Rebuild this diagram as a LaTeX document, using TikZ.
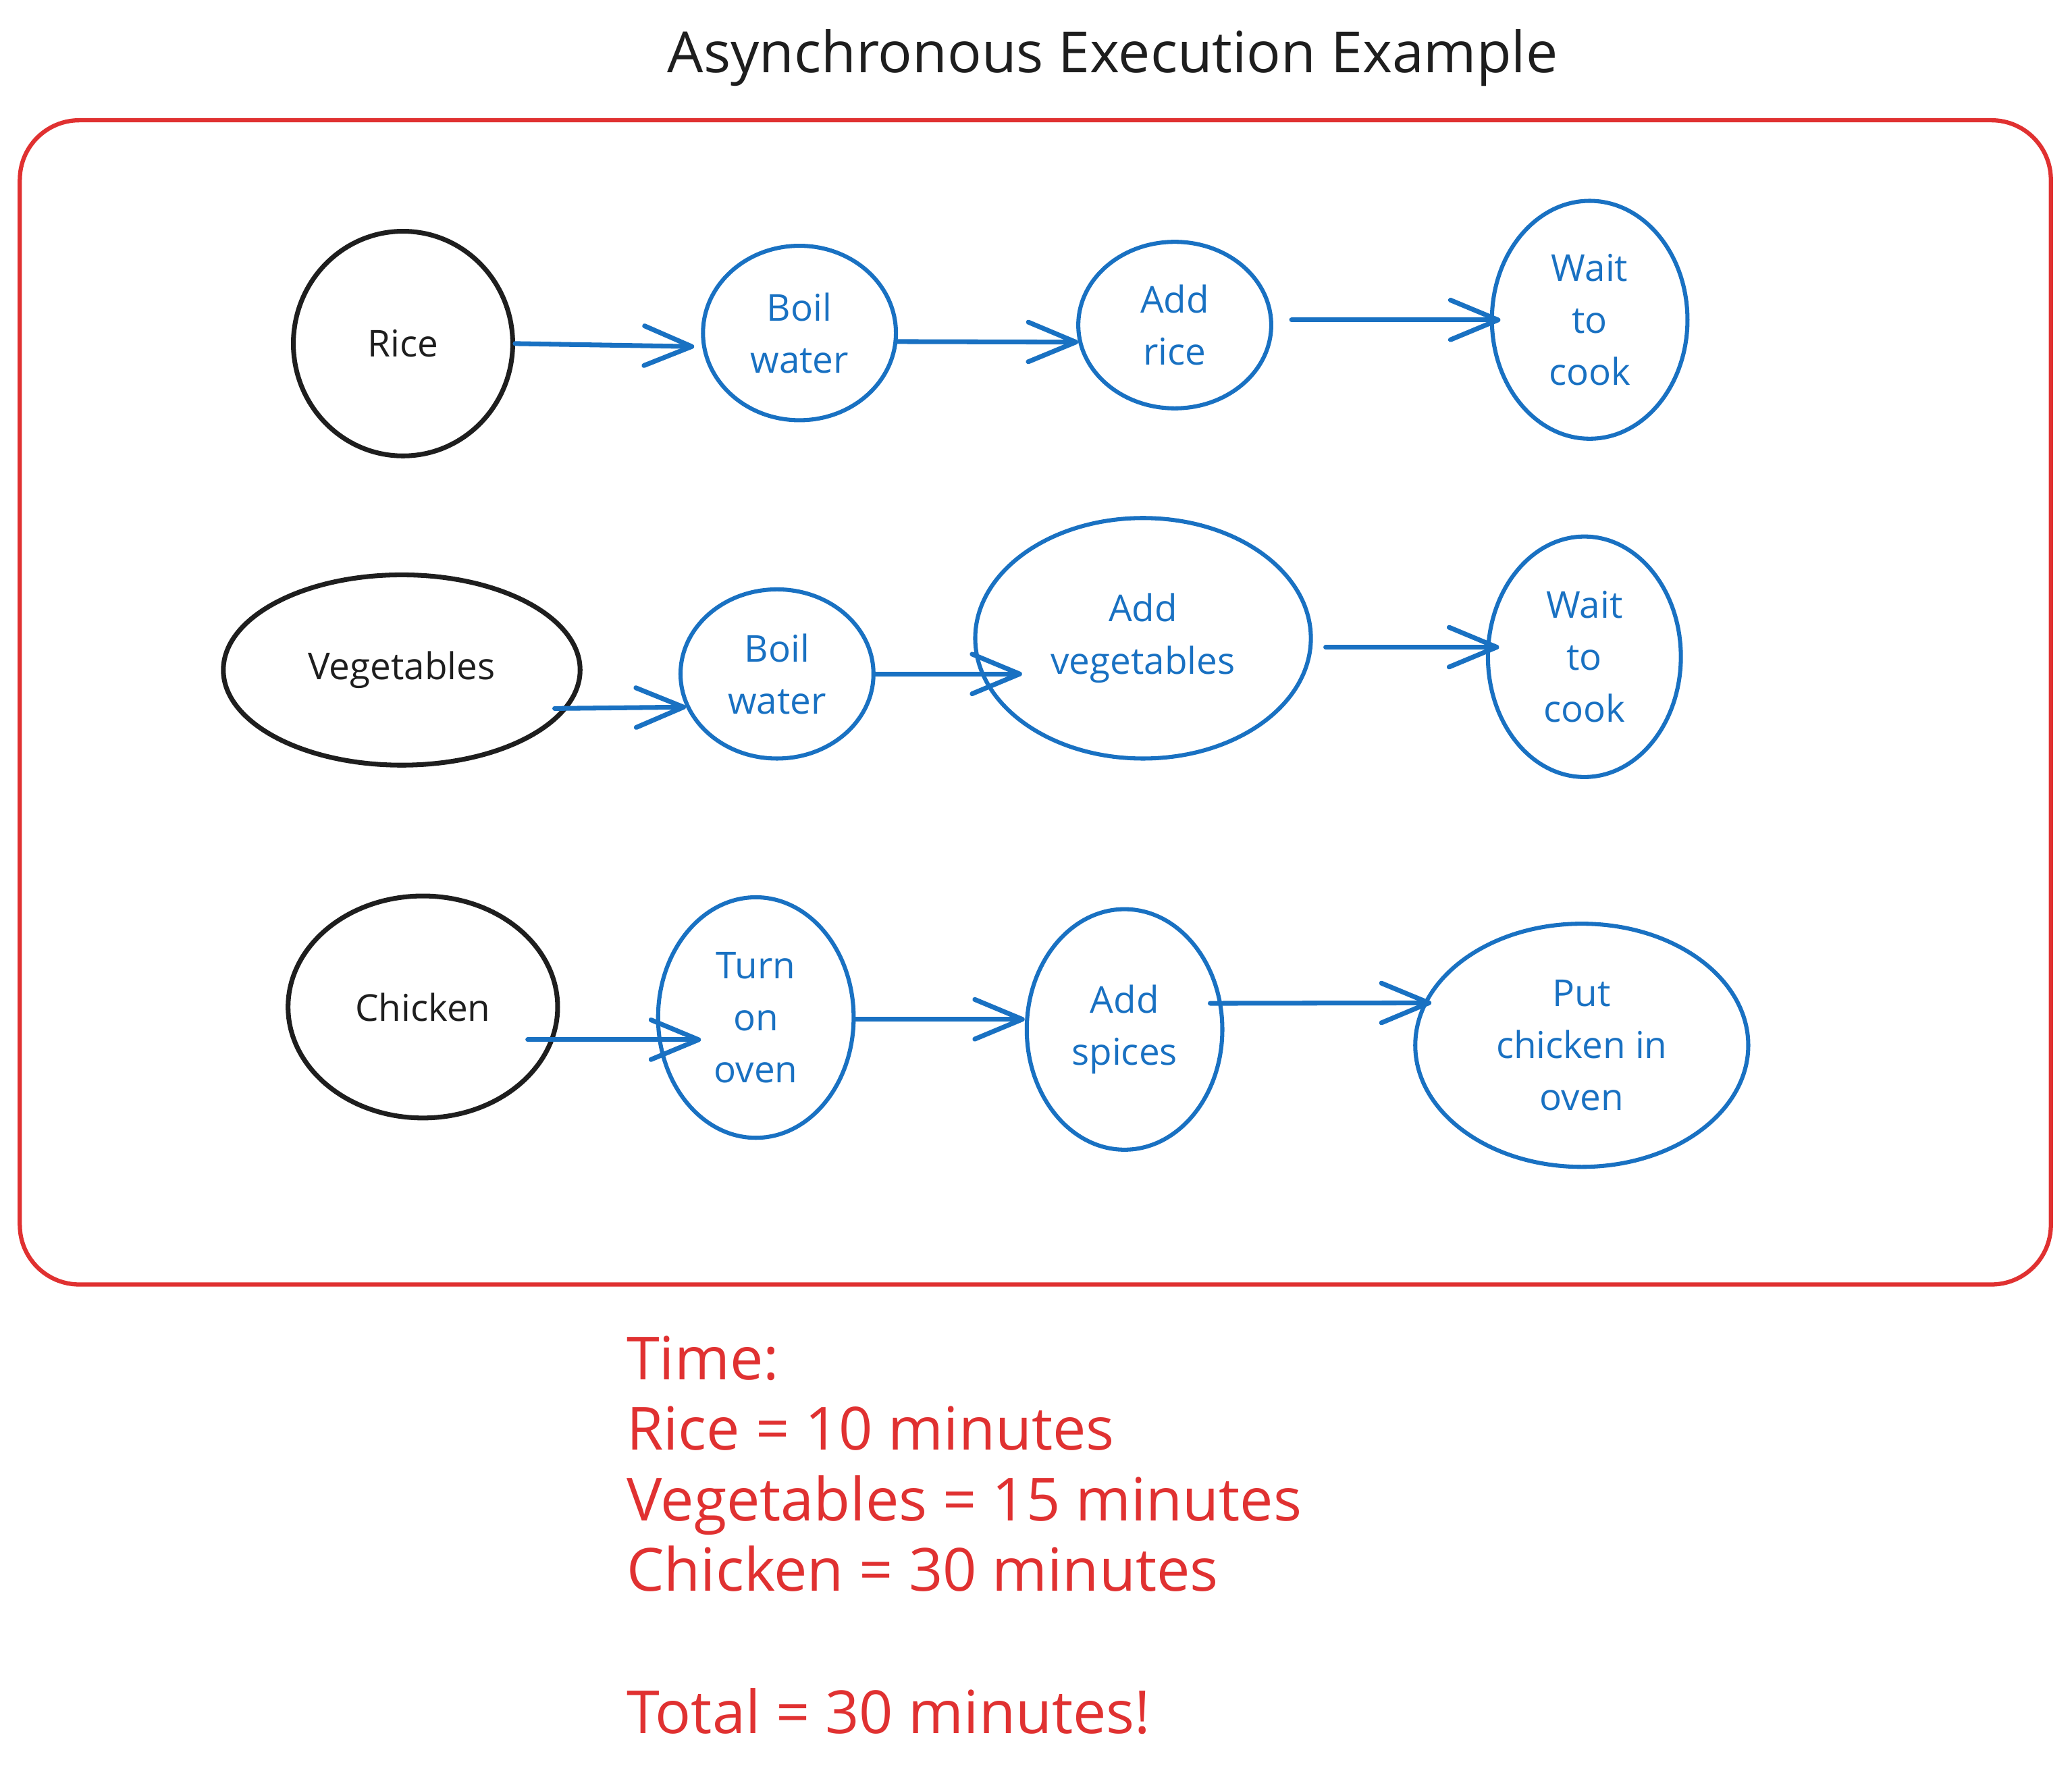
\documentclass[tikz,border=0pt]{standalone}
\usepackage{fontspec}
\setmainfont{Open Sans}
\usetikzlibrary{shapes.geometric,arrows.meta}
\definecolor{exblack}{HTML}{1E1E1E}
\definecolor{exblue}{HTML}{1971C2}
\definecolor{exred}{HTML}{E03131}
\newcommand{\lblfont}{\fontsize{28}{39.5}\selectfont}
\newcommand{\titlefont}{\fontsize{43}{50}\selectfont}
\newcommand{\notefont}{\fontsize{45}{53.5}\selectfont}
\tikzset{
  blk/.style={ellipse, draw=exblack, line width=3.6pt, inner sep=0pt, text=exblack, font=\lblfont, align=center},
  blu/.style={ellipse, draw=exblue, line width=3.1pt, inner sep=0pt, text=exblue, font=\lblfont, align=center},
  arr/.style={draw=exblue, line width=3.6pt, line cap=round, -{Straight Barb[length=36pt,width=30pt,round]}},
  frame/.style={draw=exred, line width=3.2pt, rounded corners=45pt, inner sep=0pt},
  note/.style={text=exred, font=\notefont, anchor=base west, inner sep=0pt}
}
\begin{document}
\begin{tikzpicture}[x=1pt,y=-1pt]
\useasboundingbox (0,0) rectangle (1568,1343);
\fill[white] (0,0) rectangle (1568,1343);

\node[text=exblack, font=\titlefont, anchor=base, inner sep=0pt] (title) at (842,55) {Asynchronous Execution Example};

\node[frame, minimum width=1537pt, minimum height=881pt] (frame) at (783.5,531.5) {};

% Row 1
\node[blk, minimum width=166pt, minimum height=170pt] (rice) at (305,260) {Rice};
\node[blu, minimum width=146pt, minimum height=132pt] (boilA) at (605,252) {Boil\\water};
\node[blu, minimum width=146pt, minimum height=126pt] (addR) at (889,246) {Add\\rice};
\node[blu, minimum width=148pt, minimum height=180pt] (waitA) at (1203,242) {Wait\\to\\cook};

% Row 2
\node[blk, minimum width=270pt, minimum height=144pt] (veg) at (304,507) {Vegetables};
\node[blu, minimum width=146pt, minimum height=128pt] (boilB) at (588,510) {Boil\\water};
\node[blu, minimum width=254pt, minimum height=182pt] (addV) at (865,483) {Add\\vegetables};
\node[blu, minimum width=146pt, minimum height=182pt] (waitB) at (1199,497) {Wait\\to\\cook};

% Row 3
\node[blk, minimum width=204pt, minimum height=168pt] (chick) at (320,762) {Chicken};
\node[blu, minimum width=148pt, minimum height=182pt] (turn) at (572,770) {Turn\\on\\oven};
\node[blu, minimum width=148pt, minimum height=182pt] (addS) at (851,779) {Add\\spices};
\node[blu, minimum width=252pt, minimum height=184pt] (put) at (1197,791) {Put\\chicken in\\oven};

% Arrows row 1
\draw[arr, shorten >=6pt] (rice.east) -- (boilA.188);
\draw[arr] (boilA.-5) -- (addR.190);
\draw[arr, shorten <=14pt, shorten >=-8pt] (addR.3) -- (addR.3 -| waitA.west);

% Arrows row 2
\draw[arr, shorten <=-10pt] (veg.-13) -- (boilB.200);
\draw[arr, shorten >=-37pt] (boilB.east) -- (boilB.east -| addV.west);
\draw[arr, shorten <=10pt, shorten >=-10pt] (addV.-3) -- (addV.-3 -| waitB.west);

% Arrows row 3
\draw[arr, shorten <=-20pt, shorten >=-34pt] (chick.-14) -- (chick.-14 -| turn.west);
\draw[arr] (turn.-1) -- (turn.-1 -| addS.west);
\draw[arr, shorten <=-9pt, shorten >=-6pt] (addS.15) -- (put.165);

% Notes
\node[note] (n1) at (474,1044) {Time:};
\node[note] (n2) at (474,1097) {Rice = 10 minutes};
\node[note] (n3) at (474,1151) {Vegetables = 15 minutes};
\node[note] (n4) at (474,1204) {Chicken = 30 minutes};
\node[note] (n5) at (474,1312) {Total = 30 minutes!};
\end{tikzpicture}
\end{document}
